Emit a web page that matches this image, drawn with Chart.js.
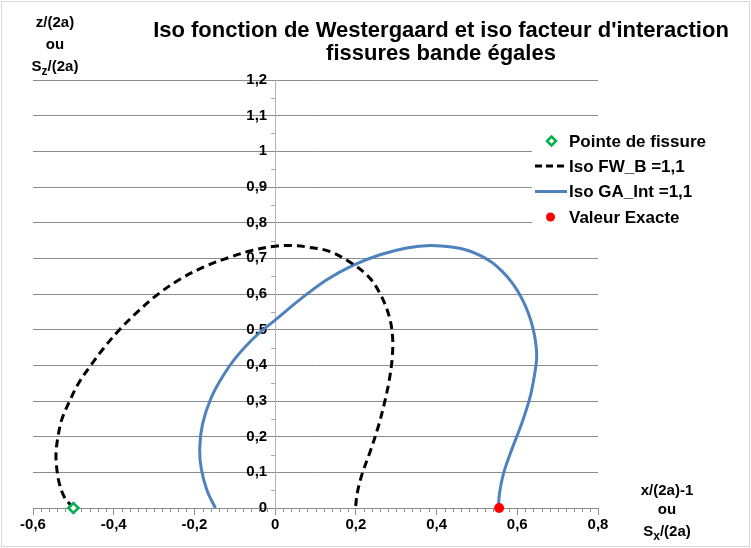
<!DOCTYPE html>
<html><head><meta charset="utf-8">
<script src="https://cdn.jsdelivr.net/npm/chart.js@4.4.1/dist/chart.umd.min.js"></script>
<style>html,body{margin:0;padding:0;background:#fff}#wrap{width:751px;height:548px;position:relative}</style>
</head><body><div id="wrap"><canvas id="c" width="751" height="548"></canvas></div>
<script>
const titleLines = ["Iso fonction de Westergaard et iso facteur d'interaction", "fissures bande égales"];
const seriesLabels = ["Pointe de fissure", "Iso FW_B =1,1", "Iso GA_Int =1,1", "Valeur Exacte"];

const fissureX = [-0.5];
const fissureY = [0];

const fwX = [-0.500,-0.522,-0.535,-0.541,-0.543,-0.538,-0.529,-0.510,-0.487,-0.458,-0.425,-0.388,-0.343,-0.293,-0.235,-0.170,-0.110,-0.055,0.000,0.040,0.078,0.136,0.194,0.235,0.264,0.283,0.291,0.290,0.283,0.272,0.256,0.236,0.216,0.204,0.199];
const fwY = [0.000,0.030,0.070,0.110,0.153,0.200,0.247,0.298,0.350,0.398,0.448,0.497,0.548,0.597,0.642,0.679,0.704,0.723,0.734,0.736,0.732,0.719,0.683,0.644,0.592,0.536,0.480,0.420,0.360,0.300,0.230,0.160,0.097,0.045,0.000];

const gaX = [-0.148,-0.169,-0.183,-0.187,-0.180,-0.160,-0.132,-0.095,-0.045,0.000,0.062,0.128,0.194,0.260,0.326,0.384,0.442,0.478,0.510,0.538,0.562,0.584,0.603,0.620,0.633,0.642,0.647,0.648,0.644,0.632,0.611,0.586,0.566,0.556,0.553];
const gaY = [0.000,0.050,0.110,0.165,0.235,0.305,0.365,0.425,0.485,0.527,0.585,0.640,0.681,0.710,0.729,0.736,0.731,0.722,0.707,0.688,0.664,0.636,0.604,0.567,0.528,0.488,0.450,0.420,0.382,0.312,0.237,0.163,0.097,0.041,0.000];

const exactX = [0.555];
const exactY = [0];

const xTickValues = [-0.6,-0.4,-0.2,0,0.2,0.4,0.6,0.8];
const xTickLabels = ['-0,6','-0,4','-0,2','0','0,2','0,4','0,6','0,8'];
const yTickValues = [0,0.1,0.2,0.3,0.4,0.5,0.6,0.7,0.8,0.9,1,1.1,1.2];
const yTickLabels = ['0','0,1','0,2','0,3','0,4','0,5','0,6','0,7','0,8','0,9','1','1,1','1,2'];

const yAxisTitle = [[['z/(2a)',false]],[['ou',false]],[['S',false],['z',true],['/(2a)',false]]];
const xAxisTitle = [[['x/(2a)-1',false]],[['ou',false]],[['S',false],['x',true],['/(2a)',false]]];

const toPts = (xs, ys) => xs.map((x, i) => ({x: x, y: ys[i]}));
const FONT = '"Liberation Sans", Arial, sans-serif';

function drawRich(ctx, parts, cx, base, size) {
  let w = 0;
  parts.forEach(p => { ctx.font = 'bold ' + (p[1] ? size - 3 : size) + 'px ' + FONT; w += ctx.measureText(p[0]).width; });
  let x = cx - w / 2;
  ctx.textAlign = 'left'; ctx.textBaseline = 'alphabetic';
  parts.forEach(p => {
    ctx.font = 'bold ' + (p[1] ? size - 3 : size) + 'px ' + FONT;
    ctx.fillText(p[0], x, base + (p[1] ? 4 : 0));
    x += ctx.measureText(p[0]).width;
  });
}

const decor = {
  id: 'decor',
  beforeDraw(chart) {
    const ys = chart.scales.y;
    const items = ys.getLabelItems(chart.chartArea);
    items.forEach(it => {
      if (!it._shifted && it.options && it.options.translation) { it.options.translation[0] -= 8; it._shifted = true; }
    });
  },
  beforeDatasetsDraw(chart) {
    const ctx = chart.ctx, xs = chart.scales.x, ys = chart.scales.y;
    const y0 = ys.getPixelForValue(0), x0 = xs.getPixelForValue(0);
    ctx.save();
    ctx.strokeStyle = '#8c8c8c'; ctx.lineWidth = 1;
    ctx.beginPath();
    for (let i = 0; i <= 70; i++) {
      if (i % 10 === 0) continue;
      const px = Math.round(xs.getPixelForValue(-0.6 + i * 0.02)) + 0.5;
      ctx.moveTo(px, y0); ctx.lineTo(px, y0 + 4);
    }
    ctx.stroke();
    ctx.strokeStyle = '#a6a6a6';
    ctx.beginPath();
    for (let i = 1; i < 24; i += 2) {
      const py = Math.round(ys.getPixelForValue(i * 0.05)) + 0.5;
      ctx.moveTo(x0, py); ctx.lineTo(x0 - 4, py);
    }
    ctx.stroke();
    ctx.restore();
  },
  afterDraw(chart) {
    const ctx = chart.ctx;
    ctx.save();
    ctx.fillStyle = '#000';
    ctx.font = 'bold 22px ' + FONT; ctx.textAlign = 'center'; ctx.textBaseline = 'alphabetic';
    ctx.fillText(titleLines[0], 441, 37);
    ctx.fillText(titleLines[1], 441, 60);
    const yb = [27, 49, 71];
    yAxisTitle.forEach((l, i) => drawRich(ctx, l, 55, yb[i], 15));
    const xb = [495, 514, 536];
    xAxisTitle.forEach((l, i) => drawRich(ctx, l, 667, xb[i], 15));
    // legend
    ctx.fillStyle = '#fff';
    ctx.fillRect(532, 125, 200, 107);
    const rows = [141, 166, 191.5, 217];
    const ds = chart.data.datasets;
    ctx.save();
    ctx.strokeStyle = ds[0].borderColor; ctx.lineWidth = 2.5; ctx.fillStyle = '#fff';
    ctx.beginPath(); ctx.moveTo(551.5, rows[0] - 4.5); ctx.lineTo(556, rows[0]); ctx.lineTo(551.5, rows[0] + 4.5); ctx.lineTo(547, rows[0]); ctx.closePath(); ctx.fill(); ctx.stroke();
    ctx.strokeStyle = ds[1].borderColor; ctx.lineWidth = 3; ctx.setLineDash([7, 4]);
    ctx.beginPath(); ctx.moveTo(535, rows[1]); ctx.lineTo(567, rows[1]); ctx.stroke();
    ctx.setLineDash([]);
    ctx.strokeStyle = ds[2].borderColor; ctx.lineWidth = 3;
    ctx.beginPath(); ctx.moveTo(535, rows[2]); ctx.lineTo(567, rows[2]); ctx.stroke();
    ctx.fillStyle = ds[3].backgroundColor;
    ctx.beginPath(); ctx.arc(550.5, rows[3], 4.5, 0, Math.PI * 2); ctx.fill();
    ctx.restore();
    ctx.fillStyle = '#000'; ctx.font = 'bold 17px ' + FONT; ctx.textAlign = 'left'; ctx.textBaseline = 'middle';
    ds.forEach((d, i) => ctx.fillText(d.label, 569, rows[i] + 1));
    ctx.strokeStyle = '#d9d9d9'; ctx.lineWidth = 1;
    ctx.strokeRect(1.5, 1.5, 748, 545);
    ctx.restore();
  }
};

new Chart(document.getElementById('c'), {
  type: 'scatter',
  data: {
    datasets: [
      {label: seriesLabels[0], data: toPts(fissureX, fissureY), pointStyle: 'rectRot', pointRadius: 5, borderWidth: 2.5, borderColor: '#00B050', backgroundColor: '#ffffff', order: 0, clip: false},
      {label: seriesLabels[1], data: toPts(fwX, fwY), showLine: true, borderColor: '#000000', borderWidth: 3, borderDash: [8, 5], pointRadius: 0, tension: 0.35, order: 2, clip: false},
      {label: seriesLabels[2], data: toPts(gaX, gaY), showLine: true, borderColor: '#4F81BD', borderWidth: 3, pointRadius: 0, tension: 0.35, order: 2, clip: false},
      {label: seriesLabels[3], data: toPts(exactX, exactY), pointStyle: 'circle', pointRadius: 5, borderWidth: 0, borderColor: '#FF0000', backgroundColor: '#FF0000', order: 0, clip: false}
    ]
  },
  options: {
    responsive: false,
    animation: false,
    devicePixelRatio: 1,
    layout: {padding: {left: 33, right: 153, top: 80, bottom: 40}},
    plugins: {legend: {display: false}, title: {display: false}, tooltip: {enabled: false}},
    scales: {
      x: {
        type: 'linear', position: {y: 0}, min: -0.6, max: 0.8,
        afterBuildTicks: s => { s.ticks = xTickValues.map(v => ({value: v})); },
        ticks: {callback: (v, i) => xTickLabels[i], font: {family: FONT, size: 15, weight: 'bold'}, color: '#000', padding: 2, maxRotation: 0, autoSkip: false},
        grid: {display: true, drawOnChartArea: false, drawTicks: true, tickLength: 6, color: '#8c8c8c'},
        border: {display: true, color: '#8c8c8c', width: 1}
      },
      y: {
        type: 'linear', position: {x: 0}, min: 0, max: 1.2,
        afterBuildTicks: s => { s.ticks = yTickValues.map(v => ({value: v})); },
        ticks: {callback: (v, i) => yTickLabels[i], font: {family: FONT, size: 15, weight: 'bold'}, color: '#000', padding: 7, autoSkip: false},
        grid: {display: true, drawOnChartArea: true, drawTicks: false, color: '#8c8c8c', lineWidth: 1},
        border: {display: true, color: '#b4b4b4', width: 1}
      }
    }
  },
  plugins: [decor]
});
</script>
</body></html>
